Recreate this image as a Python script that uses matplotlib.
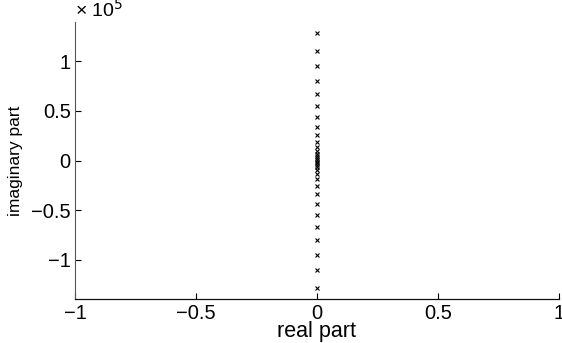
import matplotlib
matplotlib.use("Agg")
import matplotlib.pyplot as plt

plt.rcParams['font.family'] = ['Liberation Sans', 'DejaVu Sans']

# Poles: real parts (all zero) and positive imaginary parts (mirrored)
imag_pos = [128100, 110800, 95100, 80500, 67000, 54900, 43700, 33600,
            25300, 19000, 13800, 9800, 6600, 4200, 2400, 1000]
imag_vals = imag_pos + [-v for v in imag_pos]
real_vals = [0.0] * len(imag_vals)

xticks = [-1, -0.5, 0, 0.5, 1]
xticklabels = ['\u22121', '\u22120.5', '0', '0.5', '1']
yticks = [-1e5, -0.5e5, 0, 0.5e5, 1e5]
yticklabels = ['\u22121', '\u22120.5', '0', '0.5', '1']

fig = plt.figure(figsize=(5.62, 3.43), dpi=100)
ax = fig.add_axes([0.1335, 0.127, 0.861, 0.810])
ax.plot(real_vals, imag_vals, linestyle='none', marker='x', color='black',
        markersize=3.5, markeredgewidth=0.8)

ax.set_xlim(-1, 1)
ax.set_ylim(-1.40e5, 1.40e5)
ax.set_xticks(xticks)
ax.set_xticklabels(xticklabels)
ax.set_yticks(yticks)
ax.set_yticklabels(yticklabels)
ax.tick_params(direction='in', length=4, width=0.8, labelsize=14.5, colors='black', pad=3)
for s in ['top', 'right']:
    ax.spines[s].set_visible(False)
ax.spines['left'].set_linewidth(0.8)
ax.spines['left'].set_color('#555555')
ax.spines['bottom'].set_linewidth(0.9)
ax.spines['bottom'].set_color('#111111')

ax.set_xlabel('real part', fontsize=15.5, labelpad=-1)
ax.set_ylabel('imaginary part', fontsize=12.5, labelpad=6)
ax.text(0.0, 1.004, '\u00d7 10$^{5}$', transform=ax.transAxes, fontsize=14,
        ha='left', va='bottom')

fig.savefig('out.png', dpi=100)
